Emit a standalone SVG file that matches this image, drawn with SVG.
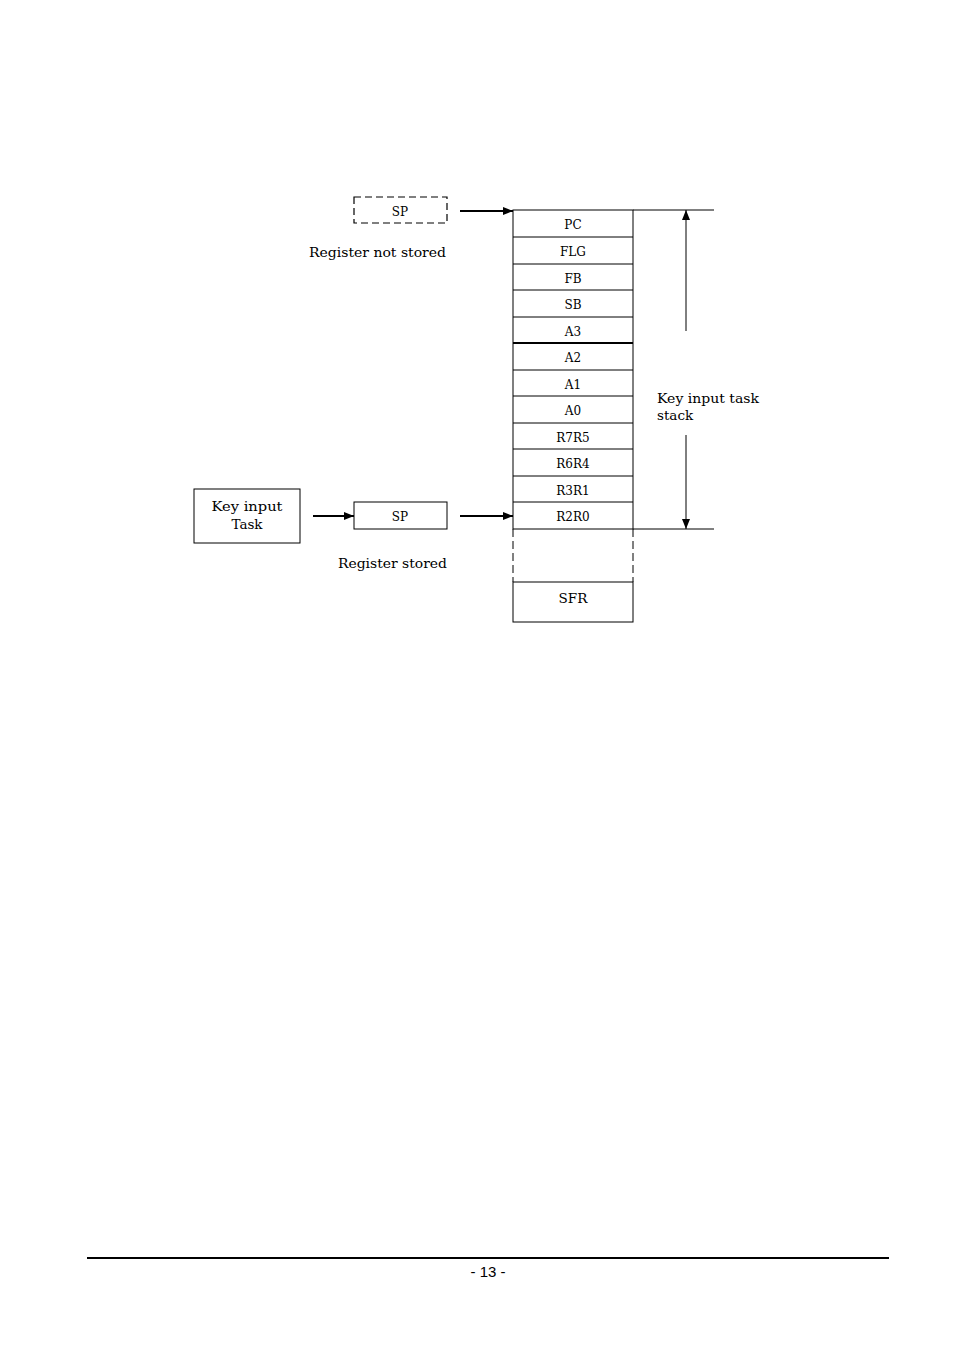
<svg xmlns="http://www.w3.org/2000/svg" width="954" height="1350" viewBox="0 0 954 1350">
<style>
.t{font-family:"DejaVu Serif","Liberation Serif",serif;font-size:13.5px;fill:#000}
.s{font-family:"DejaVu Serif","Liberation Serif",serif;font-size:12px;fill:#000;text-anchor:middle}
.b{fill:#fff;stroke:#000;stroke-width:1}
.ln{stroke:#000;stroke-width:1;fill:none}
.ar{stroke:#000;stroke-width:2;fill:none}
</style>
<defs>
<marker id="ah" markerWidth="10" markerHeight="8" refX="10" refY="4" orient="auto" markerUnits="userSpaceOnUse">
<path d="M0,0 L10,4 L0,8 Z" fill="#000"/>
</marker>
</defs>
<rect width="954" height="1350" fill="#fff"/>

<g id="stack">
<rect x="513" y="210" width="120" height="319" class="b"/>
<line x1="513" y1="237" x2="633" y2="237" class="ln"/>
<line x1="513" y1="264" x2="633" y2="264" class="ln"/>
<line x1="513" y1="290" x2="633" y2="290" class="ln"/>
<line x1="513" y1="317" x2="633" y2="317" class="ln"/>
<line x1="513" y1="343" x2="633" y2="343" stroke="#000" stroke-width="2"/>
<line x1="513" y1="370" x2="633" y2="370" class="ln"/>
<line x1="513" y1="396" x2="633" y2="396" class="ln"/>
<line x1="513" y1="423" x2="633" y2="423" class="ln"/>
<line x1="513" y1="449" x2="633" y2="449" class="ln"/>
<line x1="513" y1="476" x2="633" y2="476" class="ln"/>
<line x1="513" y1="502" x2="633" y2="502" class="ln"/>
<text x="573" y="229" class="s">PC</text>
<text x="573" y="256" class="s">FLG</text>
<text x="573" y="283" class="s">FB</text>
<text x="573" y="309" class="s">SB</text>
<text x="573" y="336" class="s">A3</text>
<text x="573" y="362" class="s">A2</text>
<text x="573" y="389" class="s">A1</text>
<text x="573" y="415" class="s">A0</text>
<text x="573" y="442" class="s">R7R5</text>
<text x="573" y="468" class="s">R6R4</text>
<text x="573" y="495" class="s">R3R1</text>
<text x="573" y="521" class="s">R2R0</text>
</g>

<g id="gap">
<line x1="513" y1="529" x2="513" y2="582" class="ln" stroke-dasharray="8,4"/>
<line x1="633" y1="529" x2="633" y2="582" class="ln" stroke-dasharray="8,4"/>
</g>

<g id="sfr">
<rect x="513" y="582" width="120" height="40" class="b"/>
<text x="573" y="603" class="t" text-anchor="middle">SFR</text>
</g>

<g id="sp-top">
<rect x="354" y="197" width="93" height="26" fill="#fff" stroke="#000" stroke-width="1.2" stroke-dasharray="7,4"/>
<text x="400" y="216" class="s">SP</text>
<text x="446" y="257" class="t" text-anchor="end" textLength="137" lengthAdjust="spacingAndGlyphs">Register not stored</text>
</g>

<g id="key-task">
<rect x="194" y="489" width="106" height="54" class="b"/>
<text x="247" y="511" class="t" text-anchor="middle" textLength="71" lengthAdjust="spacingAndGlyphs">Key input</text>
<text x="247" y="529" class="t" text-anchor="middle">Task</text>
</g>

<g id="sp-bottom">
<rect x="354" y="502" width="93" height="27" class="b"/>
<text x="400" y="521" class="s">SP</text>
<text x="447" y="568" class="t" text-anchor="end" textLength="109" lengthAdjust="spacingAndGlyphs">Register stored</text>
</g>

<g id="range-label">
<text x="657" y="403" class="t" textLength="102" lengthAdjust="spacingAndGlyphs">Key input task</text>
<text x="657" y="420" class="t">stack</text>
</g>

<g id="connectors">
<line x1="460" y1="211" x2="513" y2="211" class="ar" marker-end="url(#ah)"/>
<line x1="313" y1="516" x2="354" y2="516" class="ar" marker-end="url(#ah)"/>
<line x1="460" y1="516" x2="513" y2="516" class="ar" marker-end="url(#ah)"/>
<line x1="633" y1="210" x2="714" y2="210" class="ln"/>
<line x1="633" y1="529" x2="714" y2="529" class="ln"/>
<line x1="686" y1="331" x2="686" y2="210" class="ln" stroke-width="1.5" marker-end="url(#ah)"/>
<line x1="686" y1="435" x2="686" y2="529" class="ln" stroke-width="1.5" marker-end="url(#ah)"/>
</g>

<g id="footer">
<line x1="87" y1="1258" x2="889" y2="1258" stroke="#000" stroke-width="2"/>
<text x="488" y="1277" font-family="Liberation Sans, Arial, sans-serif" font-size="15" text-anchor="middle">- 13 -</text>
</g>
</svg>
